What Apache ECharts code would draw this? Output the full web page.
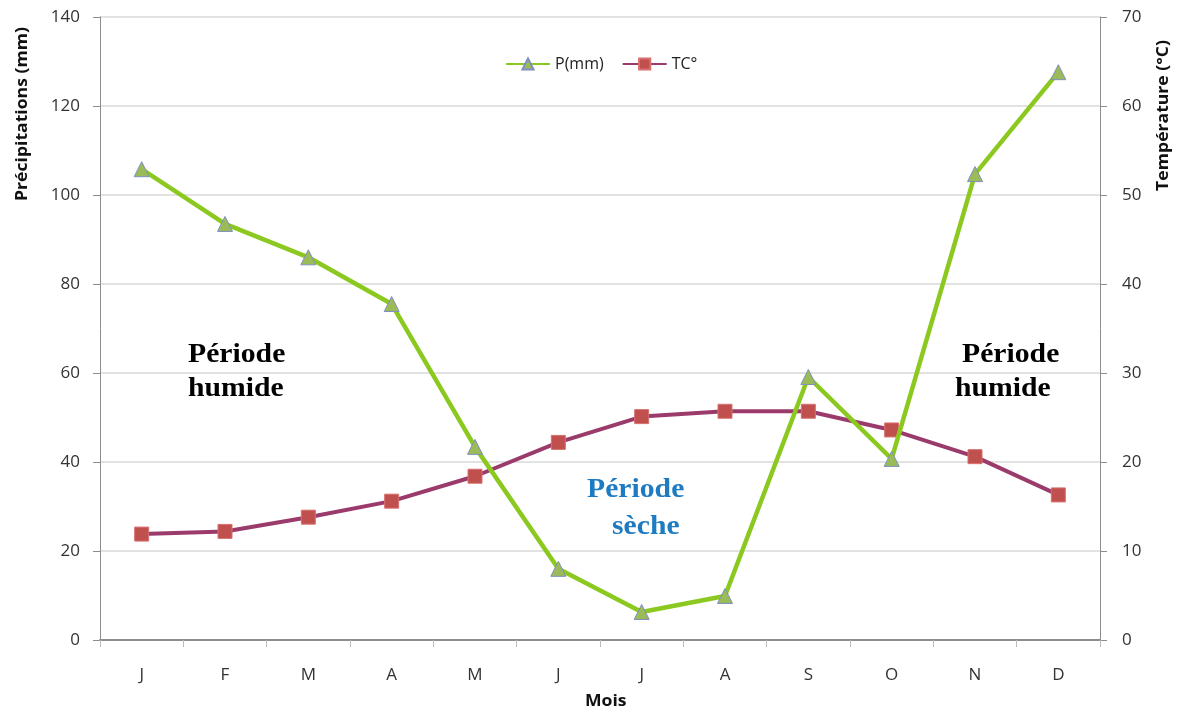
<!DOCTYPE html>
<html><head><meta charset="utf-8">
<script src="https://cdn.jsdelivr.net/npm/echarts@6/dist/echarts.min.js"></script>
<style>html,body{margin:0;padding:0;background:#fff}#c{width:1185px;height:713px}</style>
</head><body><div id="c"></div>
<script>
const months = ['J','F','M','A','M','J','J','A','S','O','N','D'];
const precip = [105.8, 93.5, 86, 75.5, 43.4, 16, 6.3, 9.9, 59.1, 40.7, 104.7, 127.6];
const temp = [11.9, 12.2, 13.8, 15.6, 18.4, 22.2, 25.1, 25.7, 25.7, 23.6, 20.6, 16.3];
const leftTicks = [0, 20, 40, 60, 80, 100, 120, 140];
const rightTicks = [0, 10, 20, 30, 40, 50, 60, 70];

const chart = echarts.init(document.getElementById('c'));
const tickFont = {fontFamily: 'Open Sans', fontSize: 17, color: '#333'};
const annot = (text, left, top, fill) => ({
  type: 'text', left: left, top: top, scaleX: 1.1,
  style: {text: text, fontFamily: 'Liberation Serif', fontWeight: 'bold', fontSize: 27, fill: fill}
});
const title = (text, left, top, rot) => ({
  type: 'text', left: left, top: top, rotation: rot, scaleX: 1.1,
  style: {text: text, fontFamily: 'Open Sans', fontWeight: 'bold', fontSize: 16, fill: '#111'}
});
chart.setOption({
  animation: false,
  grid: {left: 100, right: 85, top: 17, bottom: 73},
  legend: {
    top: 51, left: 500, itemWidth: 44, itemHeight: 14, itemGap: 18,
    textStyle: {fontFamily: 'Open Sans', fontSize: 16, color: '#222'},
    data: ['P(mm)', 'TC°']
  },
  xAxis: {
    type: 'category', data: months, boundaryGap: true,
    axisLine: {lineStyle: {color: '#8c8c8c', width: 2}},
    axisTick: {show: true, length: 7, lineStyle: {color: '#bbb'}},
    axisLabel: Object.assign({margin: 27}, tickFont)
  },
  yAxis: [{
    type: 'value', min: leftTicks[0], max: leftTicks[leftTicks.length-1], interval: 20,
    axisLine: {show: true, lineStyle: {color: '#8c8c8c'}},
    axisTick: {show: true, length: 7, lineStyle: {color: '#8c8c8c'}},
    splitLine: {lineStyle: {color: '#d9d9d9', width: 1.5}},
    axisLabel: Object.assign({margin: 20}, tickFont)
  }, {
    type: 'value', min: rightTicks[0], max: rightTicks[rightTicks.length-1], interval: 10,
    position: 'right',
    axisLine: {show: true, lineStyle: {color: '#8c8c8c'}},
    axisTick: {show: true, length: 7, lineStyle: {color: '#8c8c8c'}},
    splitLine: {show: false},
    axisLabel: Object.assign({margin: 22}, tickFont)
  }],
  series: [{
    name: 'P(mm)', type: 'line', yAxisIndex: 0, data: precip,
    symbol: 'triangle', symbolSize: 15,
    lineStyle: {color: '#8cc920', width: 4.5},
    itemStyle: {color: '#9bbb59', borderColor: '#7f8fc0', borderWidth: 1},
    z: 3
  }, {
    name: 'TC°', type: 'line', yAxisIndex: 1, data: temp,
    symbol: 'rect', symbolSize: 14,
    lineStyle: {color: '#9b3b6b', width: 4},
    itemStyle: {color: '#c0504d', borderColor: '#d87070', borderWidth: 1},
    z: 2
  }],
  graphic: [
    annot('Période', 188, 342, '#000'),
    annot('humide', 188, 376, '#000'),
    annot('Période', 962, 342, '#000'),
    annot('humide', 955, 376, '#000'),
    annot('Période', 587, 477, '#1f7bc1'),
    annot('sèche', 612, 514, '#1f7bc1'),
    title('Précipitations (mm)', 14, 27, Math.PI/2),
    title('Température (°C)', 1155, 40, Math.PI/2),
    title('Mois', 585, 693, 0)
  ]
});
</script></body></html>
